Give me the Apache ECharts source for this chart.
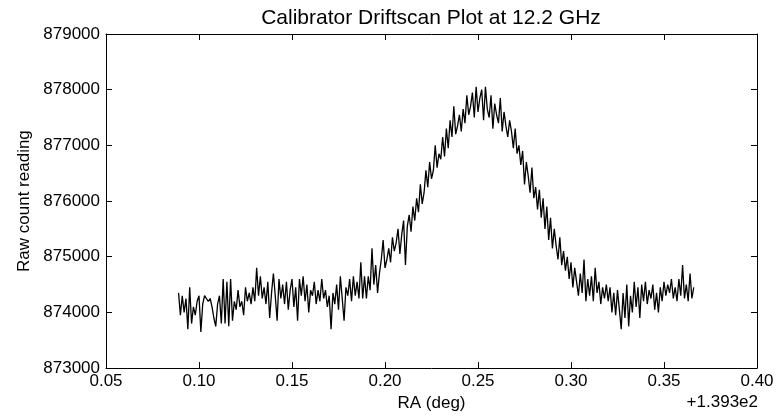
<!DOCTYPE html>
<html>
<head>
<meta charset="utf-8">
<script src="https://cdn.jsdelivr.net/npm/echarts@6/dist/echarts.min.js"></script>
<style>
html,body{margin:0;padding:0;background:#fff;}
#chart{width:782px;height:417px;}
</style>
</head>
<body>
<div id="chart"></div>
<script>
// RA offset values (deg, relative to +1.393e2)
const raOffset = [
0.089,0.090,0.091,0.092,0.093,0.094,0.095,0.096,0.097,0.098,0.099,
0.100,0.101,0.102,0.103,0.104,0.105,0.106,0.107,0.108,0.109,
0.110,0.111,0.112,0.113,0.114,0.115,0.116,0.117,0.118,0.119,
0.120,0.121,0.122,0.123,0.124,0.125,0.126,0.127,0.128,0.129,
0.130,0.131,0.132,0.133,0.134,0.135,0.136,0.137,0.138,0.139,
0.140,0.141,0.142,0.143,0.144,0.145,0.146,0.147,0.148,0.149,
0.150,0.151,0.152,0.153,0.154,0.155,0.156,0.157,0.158,0.159,
0.160,0.161,0.162,0.163,0.164,0.165,0.166,0.167,0.168,0.169,
0.170,0.171,0.172,0.173,0.174,0.175,0.176,0.177,0.178,0.179,
0.180,0.181,0.182,0.183,0.184,0.185,0.186,0.187,0.188,0.189,
0.190,0.191,0.192,0.193,0.194,0.195,0.196,0.197,0.198,0.199,
0.200,0.201,0.202,0.203,0.204,0.205,0.206,0.207,0.208,0.209,
0.210,0.211,0.212,0.213,0.214,0.215,0.216,0.217,0.218,0.219,
0.220,0.221,0.222,0.223,0.224,0.225,0.226,0.227,0.228,0.229,
0.230,0.231,0.232,0.233,0.234,0.235,0.236,0.237,0.238,0.239,
0.240,0.241,0.242,0.243,0.244,0.245,0.246,0.247,0.248,0.249,
0.250,0.251,0.252,0.253,0.254,0.255,0.256,0.257,0.258,0.259,
0.260,0.261,0.262,0.263,0.264,0.265,0.266,0.267,0.268,0.269,
0.270,0.271,0.272,0.273,0.274,0.275,0.276,0.277,0.278,0.279,
0.280,0.281,0.282,0.283,0.284,0.285,0.286,0.287,0.288,0.289,
0.290,0.291,0.292,0.293,0.294,0.295,0.296,0.297,0.298,0.299,
0.300,0.301,0.302,0.303,0.304,0.305,0.306,0.307,0.308,0.309,
0.310,0.311,0.312,0.313,0.314,0.315,0.316,0.317,0.318,0.319,
0.320,0.321,0.322,0.323,0.324,0.325,0.326,0.327,0.328,0.329,
0.330,0.331,0.332,0.333,0.334,0.335,0.336,0.337,0.338,0.339,
0.340,0.341,0.342,0.343,0.344,0.345,0.346,0.347,0.348,0.349,
0.350,0.351,0.352,0.353,0.354,0.355,0.356,0.357,0.358,0.359,
0.360,0.361,0.362,0.363,0.364,0.365,0.366
];

// Raw count readings
const rawCount = [
874350,873950,874300,874000,874250,873700,874450,873800,874100,873950,874200,
874300,873650,874150,874300,874250,874200,874250,874100,873900,873750,
874150,874300,873800,874600,873800,874550,873750,874600,873850,874200,
874050,874400,874100,874200,873950,874450,874200,874350,874150,874450,
874200,874800,874300,874650,874250,874450,874150,874550,873900,874350,
874700,874300,873850,874600,874250,874500,874150,874550,874050,874400,
874600,874100,874450,873850,874600,874300,874650,874200,874500,874000,
874400,874300,874550,874150,874400,874200,874600,874250,874400,874100,
874300,873700,874350,874150,874500,874050,874650,874250,873850,874450,
874300,874600,874200,874650,874300,874550,874250,874900,874250,874650,
874250,874650,874400,875150,874500,874850,874350,874700,874950,875300,
874800,874950,875150,874900,875350,875100,875250,875500,875050,875400,
875650,874850,875550,875750,875450,875900,875650,876050,875800,876300,
875950,876150,876550,876250,876700,876400,876550,877000,876600,876850,
876750,877150,876800,877300,876950,877450,877150,877700,877200,877350,
877550,877250,877650,877400,877900,877550,877700,877950,877500,878050,
877600,877850,878000,877450,878050,877650,877500,877900,877300,877750,
877550,877400,877850,877250,877600,877350,877150,877450,877250,876950,
877300,876850,877000,876650,876900,876300,876700,876450,876150,876600,
876050,876250,875850,876200,875700,876050,875500,875900,875300,875700,
875150,875500,875200,874950,875350,874850,875100,874750,875000,874600,
874900,874450,874800,874550,874300,874700,874350,874950,874200,874600,
874300,874650,874200,874800,874350,874550,874150,874450,874250,874500,
874200,874450,874000,874350,873950,874400,874050,873700,874350,873900,
874500,873750,874300,874000,874550,874100,874450,873900,874500,874200,
874550,874150,874400,874250,874500,874050,874350,874000,874450,874200,
874550,874300,874500,874350,874600,874250,874450,874200,874600,874300,
874850,874250,874500,874200,874700,874250,874450
];

const xTickMin = 0.05, xTickMax = 0.40, xTickStep = 0.05;
const yTickMin = 873000, yTickMax = 879000, yTickStep = 1000;

const titleText = 'Calibrator Driftscan Plot at 12.2 GHz';
const xName = 'RA (deg)';
const yName = 'Raw count reading';
const offsetText = '+1.393e2';

const FONT = '"Liberation Sans", Arial, Helvetica, sans-serif';
const chart = echarts.init(document.getElementById('chart'), null, {renderer: 'canvas'});

const seriesData = raOffset.map((x, i) => [x, rawCount[i]]);

const axisLineStyle = {lineStyle: {color: '#000', width: 1}};
const tickStyle = {inside: true, length: 6, lineStyle: {color: '#000', width: 1}};

chart.setOption({
  animation: false,
  backgroundColor: '#fff',
  title: {
    text: titleText,
    left: 431,
    top: 8,
    padding: 0,
    textAlign: 'center',
    textStyle: {fontFamily: FONT, fontSize: 21, fontWeight: 'normal', color: '#000'}
  },
  graphic: [{
    type: 'text',
    right: 24,
    top: 394,
    style: {text: offsetText, font: '17px ' + FONT, fill: '#000'}
  }],
  grid: {left: 106, right: 25, top: 34, bottom: 47, containLabel: false},
  xAxis: [{
    type: 'value',
    position: 'bottom',
    min: xTickMin, max: xTickMax, interval: xTickStep,
    name: xName,
    nameLocation: 'middle',
    nameGap: 23,
    nameTextStyle: {fontFamily: FONT, fontSize: 17, color: '#000', verticalAlign: 'top'},
    axisLine: {show: true, onZero: false, ...axisLineStyle},
    axisTick: tickStyle,
    axisLabel: {margin: 5, fontFamily: FONT, fontSize: 17, color: '#000',
      formatter: v => v.toFixed(2)},
    splitLine: {show: false}
  }, {
    type: 'value',
    position: 'top',
    min: xTickMin, max: xTickMax, interval: xTickStep,
    axisLine: {show: true, onZero: false, ...axisLineStyle},
    axisTick: tickStyle,
    axisLabel: {show: false},
    splitLine: {show: false}
  }],
  yAxis: [{
    type: 'value',
    position: 'left',
    min: yTickMin, max: yTickMax, interval: yTickStep,
    name: yName,
    nameLocation: 'middle',
    nameGap: 67,
    nameRotate: 90,
    nameTextStyle: {fontFamily: FONT, fontSize: 17, color: '#000'},
    axisLine: {show: true, onZero: false, ...axisLineStyle},
    axisTick: tickStyle,
    axisLabel: {margin: 6, fontFamily: FONT, fontSize: 17, color: '#000',
      formatter: v => String(Math.round(v))},
    splitLine: {show: false}
  }, {
    type: 'value',
    position: 'right',
    min: yTickMin, max: yTickMax, interval: yTickStep,
    axisLine: {show: true, onZero: false, ...axisLineStyle},
    axisTick: tickStyle,
    axisLabel: {show: false},
    splitLine: {show: false}
  }],
  series: [{
    type: 'line',
    xAxisIndex: 0,
    yAxisIndex: 0,
    data: seriesData,
    showSymbol: false,
    symbol: 'none',
    lineStyle: {color: '#000', width: 1.3},
    clip: true
  }]
});
</script>
</body>
</html>
